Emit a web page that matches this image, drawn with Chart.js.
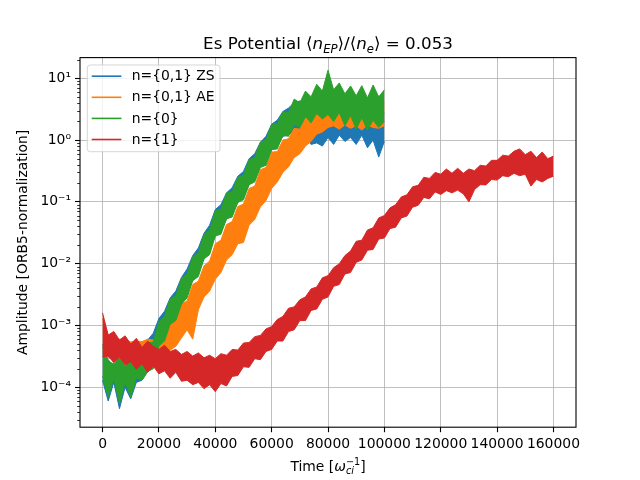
<!DOCTYPE html>
<html>
<head>
<meta charset="utf-8">
<script src="https://cdn.jsdelivr.net/npm/chart.js@4.4.1/dist/chart.umd.min.js"></script>
<style>
html, body { margin: 0; padding: 0; background: #fff; }
#wrap { width: 640px; height: 480px; }
</style>
</head>
<body>
<div id="wrap"><canvas id="chart"></canvas></div>
<script>
// time samples (every 2000 omega_ci^-1); each series is read off as the upper
// and lower edge of its noisy band at these times
const time = [
  0, 2000, 4000, 6000, 8000, 10000, 12000, 14000, 16000, 18000,
  20000, 22000, 24000, 26000, 28000, 30000, 32000, 34000, 36000, 38000,
  40000, 42000, 44000, 46000, 48000, 50000, 52000, 54000, 56000, 58000,
  60000, 62000, 64000, 66000, 68000, 70000, 72000, 74000, 76000, 78000,
  80000, 82000, 84000, 86000, 88000, 90000, 92000, 94000, 96000, 98000,
  100000, 102000, 104000, 106000, 108000, 110000, 112000, 114000, 116000, 118000,
  120000, 122000, 124000, 126000, 128000, 130000, 132000, 134000, 136000, 138000,
  140000, 142000, 144000, 146000, 148000, 150000, 152000, 154000, 156000, 158000,
  160000
];

// n={0,1} ZS
const zsHigh = [
  5e-4, 2.8e-4, 2.2e-4, 3.0e-4, 2.0e-4, 3.2e-4, 4.4e-4, 4.2e-4, 5.8e-4, 7.5e-4,
  1.3e-3, 1.7e-3, 2.8e-3, 3.6e-3, 6.0e-3, 8.2e-3, 1.35e-2, 1.8e-2, 3.1e-2, 4.2e-2,
  7.5e-2, 9.0e-2, 0.14, 0.17, 0.26, 0.31, 0.5, 0.6, 0.92, 1.15,
  1.8, 2.1, 2.9, 3.3, 4.0, 4.3, 3.8, 3.7, 4.0, 3.1,
  3.6, 2.9, 3.7, 2.7, 3.4, 2.9, 3.5, 2.5, 3.1, 2.4,
  2.8
];
const zsLow = [
  1.3e-4, 6e-5, 1.2e-4, 4.5e-5, 1.0e-4, 6.5e-5, 1.2e-4, 1.3e-4, 1.8e-4, 2.3e-4,
  5.0e-4, 6.6e-4, 1.05e-3, 1.35e-3, 2.2e-3, 3.3e-3, 5.5e-3, 7.2e-3, 1.2e-2, 1.65e-2,
  2.8e-2, 3.5e-2, 5.3e-2, 6.5e-2, 9.8e-2, 0.12, 0.19, 0.24, 0.37, 0.44,
  0.7, 0.8, 1.15, 1.2, 1.45, 1.2, 1.1, 0.85, 0.9, 0.8,
  1.1, 0.85, 1.2, 0.95, 1.1, 0.85, 1.2, 0.75, 1.0, 0.53,
  0.95
];

// n={0,1} AE
const aeHigh = [
  1.3e-3, 7e-4, 6.5e-4, 6.0e-4, 5.9e-4, 5.4e-4, 5.6e-4, 5.5e-4, 6.0e-4, 5.8e-4,
  6.8e-4, 7.6e-4, 1.15e-3, 1.3e-3, 2.2e-3, 2.5e-3, 4.6e-3, 5.2e-3, 9.2e-3, 1.1e-2,
  2.1e-2, 2.4e-2, 4.3e-2, 4.8e-2, 8.4e-2, 9.2e-2, 0.165, 0.18, 0.33, 0.36,
  0.64, 0.65, 1.0, 1.05, 1.55, 1.5, 2.3, 2.3, 3.4, 3.2,
  4.1, 3.7, 4.3, 3.5, 4.1, 3.6, 4.2, 3.7, 4.3, 3.8,
  4.0
];
const aeLow = [
  3.5e-4, 3e-4, 2.8e-4, 2.7e-4, 2.6e-4, 2.4e-4, 2.3e-4, 2.2e-4, 2.2e-4, 2.3e-4,
  2.6e-4, 2.9e-4, 4.0e-4, 4.6e-4, 6.3e-4, 8.5e-4, 6.0e-4, 1.8e-3, 2.9e-3, 3.6e-3,
  5.6e-3, 7.2e-3, 1.15e-2, 1.4e-2, 2.1e-2, 2.2e-2, 4.2e-2, 5.2e-2, 8.3e-2, 0.105,
  0.165, 0.21, 0.3, 0.37, 0.52, 0.6, 0.8, 0.95, 1.25, 1.35,
  1.6, 1.7, 1.5, 1.75, 1.55, 1.7, 1.45, 1.75, 1.6, 1.55,
  1.7
];

// n={0}
const n0High = [
  4.5e-4, 2.6e-4, 2.4e-4, 3.0e-4, 2.2e-4, 2.8e-4, 3.7e-4, 3.5e-4, 5.2e-4, 5.4e-4,
  1.15e-3, 1.4e-3, 2.7e-3, 3.0e-3, 5.8e-3, 6.8e-3, 1.3e-2, 1.5e-2, 3.0e-2, 3.5e-2,
  7.2e-2, 7.6e-2, 0.14, 0.145, 0.25, 0.27, 0.48, 0.52, 0.92, 1.0,
  1.8, 1.85, 2.9, 2.8, 4.6, 4.0, 6.2, 5.0, 8.0, 6.2,
  13.5, 6.5, 8.4, 5.6, 7.5, 5.2, 7.6, 4.8, 7.8, 5.0,
  6.5
];
const n0Low = [
  1.5e-4, 7e-5, 1.4e-4, 5.5e-5, 1.2e-4, 7e-5, 1.4e-4, 1.3e-4, 1.8e-4, 2.0e-4,
  4.7e-4, 5.6e-4, 1.05e-3, 1.2e-3, 2.2e-3, 2.8e-3, 5.3e-3, 6.2e-3, 1.2e-2, 1.4e-2,
  2.8e-2, 3.0e-2, 5.3e-2, 5.7e-2, 9.8e-2, 0.108, 0.19, 0.21, 0.36, 0.39,
  0.7, 0.72, 1.2, 1.15, 1.75, 1.6, 2.4, 1.9, 2.7, 2.2,
  2.6, 2.0, 2.8, 1.7, 2.5, 1.5, 2.3, 1.45, 2.1, 1.6,
  2.0
];

// n={1}
const n1High = [
  1.6e-3, 7.0e-4, 8.0e-4, 5.8e-4, 6.8e-4, 5.0e-4, 6.2e-4, 4.4e-4, 5.6e-4, 4.6e-4,
  4.1e-4, 4.8e-4, 3.8e-4, 4.1e-4, 3.4e-4, 3.8e-4, 3.2e-4, 3.6e-4, 3.0e-4, 3.3e-4,
  2.9e-4, 3.5e-4, 3.3e-4, 4.1e-4, 4.0e-4, 5.2e-4, 5.3e-4, 6.6e-4, 6.9e-4, 8.8e-4,
  9.6e-4, 1.25e-3, 1.4e-3, 1.9e-3, 2.0e-3, 2.6e-3, 2.9e-3, 3.9e-3, 4.2e-3, 5.9e-3,
  6.4e-3, 8.6e-3, 1.0e-2, 1.35e-2, 1.6e-2, 2.3e-2, 2.4e-2, 3.5e-2, 3.8e-2, 5.5e-2,
  6.0e-2, 8.0e-2, 9.0e-2, 0.12, 0.13, 0.175, 0.185, 0.25, 0.24, 0.3,
  0.28, 0.34, 0.29, 0.35, 0.29, 0.34, 0.32, 0.39, 0.38, 0.47,
  0.47, 0.57, 0.55, 0.66, 0.72, 0.58, 0.66, 0.52, 0.64, 0.5,
  0.55
];
const n1Low = [
  3.1e-4, 3.2e-4, 2.5e-4, 3.1e-4, 2.3e-4, 2.6e-4, 1.95e-4, 2.4e-4, 1.75e-4, 2.2e-4,
  1.65e-4, 1.85e-4, 1.4e-4, 1.75e-4, 1.25e-4, 1.3e-4, 1.1e-4, 1.2e-4, 9.5e-5, 1.1e-4,
  8.5e-5, 1.15e-4, 1.05e-4, 1.5e-4, 1.55e-4, 2.15e-4, 2.1e-4, 2.9e-4, 2.8e-4, 3.8e-4,
  4.1e-4, 5.6e-4, 5.6e-4, 8.0e-4, 8.5e-4, 1.2e-3, 1.2e-3, 1.75e-3, 1.85e-3, 2.65e-3,
  2.9e-3, 4.3e-3, 4.6e-3, 6.8e-3, 7.2e-3, 1.05e-2, 1.15e-2, 1.65e-2, 1.7e-2, 2.5e-2,
  2.6e-2, 3.7e-2, 3.9e-2, 5.5e-2, 5.9e-2, 8.2e-2, 8.8e-2, 0.118, 0.112, 0.145,
  0.132, 0.152, 0.14, 0.155, 0.135, 0.10, 0.158, 0.19, 0.188, 0.23,
  0.225, 0.265, 0.255, 0.29, 0.265, 0.28, 0.18, 0.23, 0.21, 0.24,
  0.26
];

const seriesLabels = ['n={0,1} ZS', 'n={0,1} AE', 'n={0}', 'n={1}'];
const seriesColors = ['#1f77b4', '#ff7f0e', '#2ca02c', '#d62728'];
const seriesHigh = [zsHigh, aeHigh, n0High, n1High];
const seriesLow = [zsLow, aeLow, n0Low, n1Low];

const xTicks = [0, 20000, 40000, 60000, 80000, 100000, 120000, 140000, 160000];
const yTicks = [1e-4, 1e-3, 1e-2, 1e-1, 1, 10];
const yTickLabels = ['10⁻⁴', '10⁻³', '10⁻²', '10⁻¹', '10⁰', '10¹'];

const yMin = 2.26e-5, yMax = 21.6;

// minor log ticks 2..9 per decade
const yMinor = [];
for (let e = -5; e <= 1; e++) {
  for (let m = 2; m <= 9; m++) {
    const v = m * Math.pow(10, e);
    if (v > yMin && v < yMax) yMinor.push(v);
  }
}

const FONT = '"DejaVu Sans"';
Chart.defaults.font.family = FONT;
Chart.defaults.font.size = 13.9;
Chart.defaults.color = '#000';

function fontFor(r) {
  return (r.it ? 'italic ' : '') + r.size + 'px ' + FONT;
}
function runWidth(ctx, r) {
  const parts = r.stack || [r];
  let w = 0;
  parts.forEach(p => { ctx.font = fontFor(p); w = Math.max(w, ctx.measureText(p.text).width); });
  return w;
}
function drawRuns(ctx, runs, cx, base) {
  const total = runs.reduce((s, r) => s + runWidth(ctx, r), 0);
  let x = cx - total / 2;
  ctx.textAlign = 'left';
  ctx.textBaseline = 'alphabetic';
  ctx.fillStyle = '#000';
  runs.forEach(r => {
    const w = runWidth(ctx, r);
    (r.stack || [r]).forEach(p => {
      ctx.font = fontFor(p);
      ctx.fillText(p.text, x, base + (p.dy || 0));
    });
    x += w;
  });
}

const decor = {
  id: 'decor',
  afterDraw(chart) {
    const { ctx, chartArea: a, scales } = chart;
    ctx.save();

    // minor ticks
    ctx.strokeStyle = '#000';
    ctx.lineWidth = 0.8;
    yMinor.forEach(v => {
      const y = Math.round(scales.y.getPixelForValue(v)) + 0.5;
      ctx.beginPath();
      ctx.moveTo(a.left - 2.8, y);
      ctx.lineTo(a.left, y);
      ctx.stroke();
    });

    // frame
    ctx.lineWidth = 1.1;
    ctx.strokeRect(a.left, a.top, a.right - a.left, a.bottom - a.top);

    const cx = (a.left + a.right) / 2;
    // title
    const T = 16.7, S = 11.7;
    drawRuns(ctx, [
      { text: 'Es Potential ', size: T },
      { text: '⟨', size: T },
      { text: 'n', size: T, it: true },
      { text: 'EP', size: S, it: true, dy: 3.6 },
      { text: '⟩/⟨', size: T },
      { text: 'n', size: T, it: true },
      { text: 'e', size: S, it: true, dy: 3.6 },
      { text: '⟩ = 0.053', size: T }
    ], cx, a.top - 8.5);

    // x label
    const L = 13.9, s = 9.7;
    drawRuns(ctx, [
      { text: 'Time [', size: L },
      { text: 'ω', size: L, it: true },
      { stack: [
        { text: 'ci', size: s, it: true, dy: 3.3 },
        { text: '−1', size: s, dy: -5.6 }
      ] },
      { text: ']', size: L }
    ], cx, 470.5);

    // y label
    ctx.save();
    ctx.translate(27, (a.top + a.bottom) / 2);
    ctx.rotate(-Math.PI / 2);
    ctx.font = L + 'px ' + FONT;
    ctx.textAlign = 'center';
    ctx.textBaseline = 'alphabetic';
    ctx.fillText('Amplitude [ORB5-normalization]', 0, 0);
    ctx.restore();

    // legend
    const lx = a.left + 7.3, ly = a.top + 7.4, lw = 132.7, lh = 86.7, rad = 3;
    ctx.beginPath();
    ctx.moveTo(lx + rad, ly);
    ctx.lineTo(lx + lw - rad, ly);
    ctx.quadraticCurveTo(lx + lw, ly, lx + lw, ly + rad);
    ctx.lineTo(lx + lw, ly + lh - rad);
    ctx.quadraticCurveTo(lx + lw, ly + lh, lx + lw - rad, ly + lh);
    ctx.lineTo(lx + rad, ly + lh);
    ctx.quadraticCurveTo(lx, ly + lh, lx, ly + lh - rad);
    ctx.lineTo(lx, ly + rad);
    ctx.quadraticCurveTo(lx, ly, lx + rad, ly);
    ctx.closePath();
    ctx.fillStyle = 'rgba(255,255,255,0.8)';
    ctx.fill();
    ctx.strokeStyle = 'rgba(204,204,204,0.8)';
    ctx.lineWidth = 1;
    ctx.stroke();

    ctx.font = L + 'px ' + FONT;
    ctx.textAlign = 'left';
    ctx.textBaseline = 'middle';
    seriesLabels.forEach((lab, i) => {
      const y = ly + 11.2 + i * 21.1;
      ctx.strokeStyle = seriesColors[i];
      ctx.lineWidth = 1.6;
      ctx.beginPath();
      ctx.moveTo(lx + 4.4, y);
      ctx.lineTo(lx + 34.1, y);
      ctx.stroke();
      ctx.fillStyle = '#000';
      ctx.fillText(lab, lx + 44.4, y + 0.5);
    });

    ctx.restore();
  }
};

const isMajorY = v => yTicks.some(t => Math.abs(Math.log10(v) - Math.log10(t)) < 1e-6);

// each series: upper edge filled down to its lower edge
const datasets = [];
seriesLabels.forEach((lab, i) => {
  const hiIndex = datasets.length;
  datasets.push({
    label: lab,
    data: seriesHigh[i].map((v, k) => ({ x: time[k], y: v })),
    borderColor: seriesColors[i],
    backgroundColor: seriesColors[i],
    borderWidth: 1,
    borderJoinStyle: 'round',
    pointRadius: 0,
    tension: 0,
    fill: { target: hiIndex + 1, above: seriesColors[i], below: seriesColors[i] },
    order: (4 - i) * 2
  });
  datasets.push({
    label: lab + ' low',
    data: seriesLow[i].map((v, k) => ({ x: time[k], y: v })),
    borderColor: seriesColors[i],
    borderWidth: 1,
    borderJoinStyle: 'round',
    pointRadius: 0,
    tension: 0,
    fill: false,
    order: (4 - i) * 2 + 1
  });
});

new Chart(document.getElementById('chart'), {
  type: 'line',
  data: { datasets },
  options: {
    responsive: true,
    maintainAspectRatio: false,
    animation: false,
    events: [],
    layout: { padding: { left: 0, right: 64, top: 57.6, bottom: 0 } },
    plugins: {
      legend: { display: false },
      tooltip: { enabled: false },
      title: { display: false },
      filler: { propagate: false }
    },
    scales: {
      x: {
        type: 'linear',
        min: -8000,
        max: 168000,
        afterBuildTicks: sc => { sc.ticks = xTicks.map(v => ({ value: v })); },
        afterFit: sc => { sc.height = 52.8; },
        ticks: {
          autoSkip: false,
          maxRotation: 0,
          padding: 4,
          color: '#000',
          font: { size: 13.9 },
          callback: v => String(v)
        },
        grid: { color: '#b0b0b0', lineWidth: 0.8, tickLength: 5, tickColor: '#000', tickWidth: 1.1 },
        border: { display: false }
      },
      y: {
        type: 'logarithmic',
        min: yMin,
        max: yMax,
        afterBuildTicks: sc => {
          sc.ticks = yTicks.concat(yMinor).sort((p, q) => p - q).map(v => ({ value: v }));
        },
        afterFit: sc => { sc.width = 80; },
        ticks: {
          autoSkip: false,
          padding: 4,
          color: '#000',
          font: { size: 13.9 },
          callback: v => {
            const i = yTicks.findIndex(t => Math.abs(Math.log10(v) - Math.log10(t)) < 1e-6);
            return i >= 0 ? yTickLabels[i] : '';
          }
        },
        grid: {
          color: c => (c.tick && isMajorY(c.tick.value)) ? '#b0b0b0' : 'rgba(0,0,0,0)',
          tickColor: c => (c.tick && isMajorY(c.tick.value)) ? '#000' : 'rgba(0,0,0,0)',
          lineWidth: 0.8,
          tickLength: 5,
          tickWidth: 1.1
        },
        border: { display: false }
      }
    }
  },
  plugins: [decor]
});
</script>
</body>
</html>
